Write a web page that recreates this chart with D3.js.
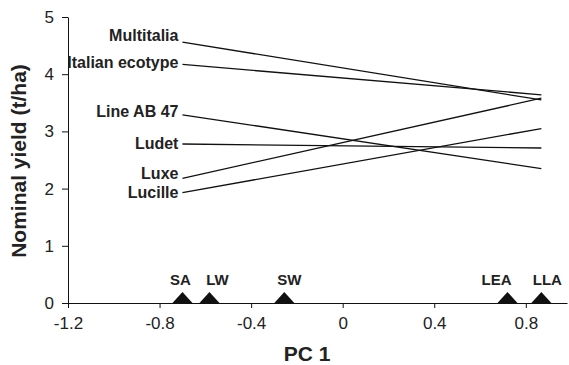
<!DOCTYPE html>
<html>
<head>
<meta charset="utf-8">
<script src="https://cdn.jsdelivr.net/npm/d3@7"></script>
<style>
  body { margin: 0; background: #fff; }
  svg { display: block; font-family: Arial, 'Liberation Sans', Helvetica, sans-serif; }
</style>
</head>
<body>
<div id="chart-area"></div>
<script>
// varieties: nominal yield at the two extreme environments (SA and LLA)
const varieties = ['Multitalia', 'Italian ecotype', 'Line AB 47', 'Ludet', 'Luxe', 'Lucille'];
const yieldAtSA = [4.56, 4.17, 3.29, 2.78, 2.18, 1.93];
const yieldAtLLA = [3.55, 3.64, 2.35, 2.71, 3.58, 3.05];

// environments on the PC 1 axis
const environments = ['SA', 'LW', 'SW', 'LEA', 'LLA'];
const envPC1 = [-0.70, -0.582, -0.255, 0.72, 0.868];

const xTicks = [-1.2, -0.8, -0.4, 0, 0.4, 0.8];
const yTicks = [0, 1, 2, 3, 4, 5];

let width = 569;
let height = 365;
// small nudges (px) so labels sit like in the original figure
let envLabelNudge = { SA: -2, LW: 8, SW: 5, LEA: -11, LLA: 6 };
let varietyLabelNudge = { Multitalia: -7, 'Italian ecotype': -2, 'Line AB 47': -3, Ludet: -1, Luxe: -5, Lucille: 0 };

let xScale = d3.scaleLinear().domain([-1.2, 0.98]).range([68, 567]);
let yScale = d3.scaleLinear().domain([0, 5]).range([303, 17]);

let chart = d3
  .select('#chart-area')
  .append('svg')
  .attr('width', width)
  .attr('height', height);

//axes
let xAxis = d3
  .axisBottom(xScale)
  .tickValues(xTicks)
  .tickSizeInner(5)
  .tickSizeOuter(0)
  .tickPadding(9)
  .tickFormat((d) => d3.format('.1~f')(d).replace('\u2212', '-')); //plain hyphen like the original
let yAxis = d3
  .axisLeft(yScale)
  .tickValues(yTicks)
  .tickSizeInner(6)
  .tickSizeOuter(0)
  .tickPadding(8)
  .tickFormat(d3.format('d'));

chart
  .append('g')
  .attr('id', 'x-axis')
  .attr('transform', `translate(0, ${yScale(0)})`)
  .call(xAxis);
chart
  .append('g')
  .attr('id', 'y-axis')
  .attr('transform', `translate(${xScale(-1.2)}, 0)`)
  .call(yAxis);

chart.selectAll('.domain, .tick line').attr('stroke', '#111');
chart
  .selectAll('.tick text')
  .attr('font-size', '17px')
  .attr('font-family', 'Arial, Liberation Sans, sans-serif')
  .attr('fill', '#222');

//axis titles
chart
  .append('text')
  .text('PC 1')
  .attr('font-size', '21px')
  .attr('font-weight', 'bold')
  .attr('fill', '#222')
  .attr('text-anchor', 'middle')
  .attr('x', 307)
  .attr('y', 361);
chart
  .append('text')
  .text('Nominal yield (t/ha)')
  .attr('font-size', '21px')
  .attr('font-weight', 'bold')
  .attr('fill', '#222')
  .attr('text-anchor', 'middle')
  .attr('transform', `translate(26, ${(yScale(0) + yScale(5)) / 2 + 1}) rotate(-90)`);

//variety response lines
let rows = varieties.map((name, i) => ({ name, a: yieldAtSA[i], b: yieldAtLLA[i] }));
let xStart = xScale(envPC1[0]);
let xEnd = xScale(envPC1[envPC1.length - 1]);

chart
  .append('g')
  .selectAll('line')
  .data(rows)
  .enter()
  .append('line')
  .attr('x1', xStart)
  .attr('x2', xEnd)
  .attr('y1', (d) => yScale(d.a))
  .attr('y2', (d) => yScale(d.b))
  .attr('stroke', '#111')
  .attr('stroke-width', 1.3);

chart
  .append('g')
  .selectAll('text')
  .data(rows)
  .enter()
  .append('text')
  .text((d) => d.name)
  .attr('x', xStart - 4)
  .attr('y', (d) => yScale(d.a) + varietyLabelNudge[d.name])
  .attr('dy', '0.35em')
  .attr('text-anchor', 'end')
  .attr('font-size', '16px')
  .attr('font-weight', 'bold')
  .attr('fill', '#222');

//environment markers
let env = chart
  .append('g')
  .selectAll('g')
  .data(environments)
  .enter()
  .append('g')
  .attr('transform', (d, i) => `translate(${xScale(envPC1[i])}, ${yScale(0)})`);
env
  .append('path')
  .attr('d', 'M-10,0L0,-11L10,0Z')
  .attr('fill', '#111');
env
  .append('text')
  .text((d) => d)
  .attr('x', (d) => envLabelNudge[d])
  .attr('y', -18)
  .attr('text-anchor', 'middle')
  .attr('font-size', '15px')
  .attr('font-weight', 'bold')
  .attr('fill', '#222');
</script>
</body>
</html>
